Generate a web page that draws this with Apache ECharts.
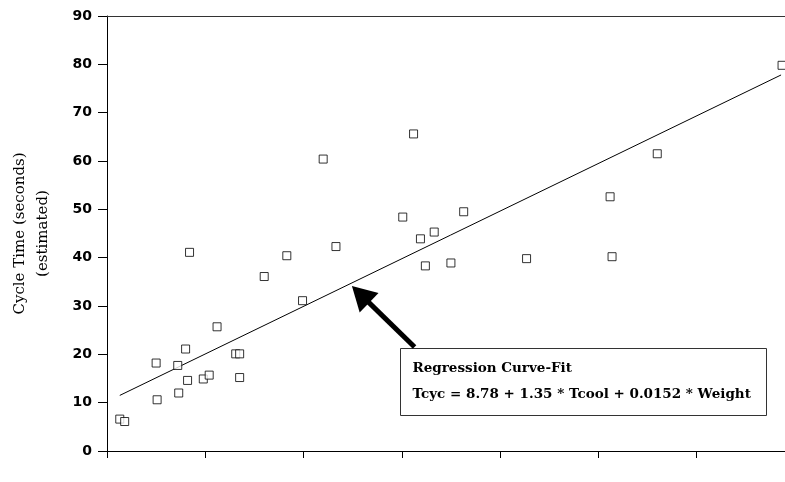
<!DOCTYPE html>
<html>
<head>
<meta charset="utf-8">
<script src="https://cdn.jsdelivr.net/npm/echarts@6/dist/echarts.min.js"></script>
<style>
  html, body { margin: 0; padding: 0; background: #fff; }
  #chart { width: 785px; height: 482px; }
</style>
</head>
<body>
<div id="chart"></div>
<script>
  // observed points, x is the (unlabelled) predicted value, y the cycle time
  const obsX = [11.3, 11.8, 15.0, 15.1, 17.2, 17.3, 18.0, 18.2, 18.4, 19.8, 20.4, 21.2, 23.1, 23.5, 23.5,
    26.0, 28.3, 29.9, 32.0, 33.3, 40.1, 41.2, 41.9, 42.4, 43.3, 45.0, 46.3, 52.7, 61.2, 61.4, 66.0, 78.7];
  const obsY = [6.6, 6.1, 18.2, 10.6, 17.7, 12.0, 21.1, 14.6, 41.1, 14.9, 15.7, 25.7, 20.1, 20.1, 15.2,
    36.1, 40.4, 31.1, 60.4, 42.3, 48.4, 65.6, 43.9, 38.3, 45.3, 38.9, 49.5, 39.8, 52.6, 40.2, 61.5, 79.8];
  // regression fit end points
  const fitX = [11.3, 78.6];
  const fitY = [11.5, 77.8];
  // arrow from the note box to the fit line (end = centre of the head)
  const arrowFrom = [41.3, 21.5];
  const arrowTo = [35.8, 32.4];
  const yTicks = [0, 10, 20, 30, 40, 50, 60, 70, 80, 90];
  const noteLines = ['Regression Curve-Fit', 'Tcyc = 8.78 + 1.35 * Tcool + 0.0152 * Weight'];

  const chart = echarts.init(document.getElementById('chart'));
  const option = {
    animation: false,
    grid: { left: 107, right: 0, top: 16, bottom: 31 },
    xAxis: [{
      type: 'value',
      min: 10,
      max: 79,
      interval: 10,
      axisLine: { lineStyle: { color: '#000', width: 1 } },
      axisTick: { show: true, length: 7, lineStyle: { color: '#000' } },
      axisLabel: { show: false },
      splitLine: { show: false }
    }, {
      type: 'value',
      position: 'top',
      min: 10,
      max: 79,
      axisLine: { show: true, onZero: false, lineStyle: { color: '#333', width: 1 } },
      axisTick: { show: false },
      axisLabel: { show: false },
      splitLine: { show: false }
    }],
    yAxis: {
      type: 'value',
      min: yTicks[0],
      max: yTicks[yTicks.length - 1],
      interval: 10,
      name: 'Cycle Time (seconds)\n(estimated)',
      nameLocation: 'middle',
      nameRotate: 90,
      nameGap: 52,
      nameTextStyle: {
        fontFamily: 'DejaVu Serif',
        fontSize: 15,
        color: '#000',
        lineHeight: 23
      },
      axisLine: { show: true, lineStyle: { color: '#000', width: 1 } },
      axisTick: { show: true, length: 9, lineStyle: { color: '#000' } },
      axisLabel: {
        margin: 15,
        fontFamily: 'DejaVu Sans',
        fontWeight: 'bold',
        fontSize: 14,
        color: '#000'
      },
      splitLine: { show: false }
    },
    series: [{
      type: 'line',
      data: fitX.map((x, i) => [x, fitY[i]]),
      symbol: 'none',
      lineStyle: { color: '#000', width: 1 },
      z: 2,
      markLine: {
        silent: true,
        symbol: ['none', 'triangle'],
        symbolSize: [27, 24],
        label: { show: false },
        lineStyle: { color: '#000', width: 5, type: 'solid' },
        data: [[{ coord: arrowFrom }, { coord: arrowTo }]]
      }
    }, {
      type: 'scatter',
      data: obsX.map((x, i) => [x, obsY[i]]),
      symbol: 'rect',
      symbolSize: 8,
      clip: false,
      itemStyle: { color: '#fff', borderColor: '#000', borderWidth: 1 },
      z: 3
    }],
    graphic: [{
      type: 'group',
      left: 400,
      top: 348,
      children: [{
        type: 'rect',
        shape: { x: 0, y: 0, width: 366, height: 67 },
        style: { fill: '#fff', stroke: '#333', lineWidth: 1 }
      }, {
        type: 'text',
        x: 12,
        y: 20,
        style: {
          text: noteLines[0],
          font: 'bold 13.5px "DejaVu Serif"',
          fill: '#000',
          verticalAlign: 'middle'
        }
      }, {
        type: 'text',
        x: 12,
        y: 46,
        style: {
          text: noteLines[1],
          font: 'bold 13.5px "DejaVu Serif"',
          fill: '#000',
          verticalAlign: 'middle'
        }
      }]
    }]
  };
  chart.setOption(option);
</script>
</body>
</html>
